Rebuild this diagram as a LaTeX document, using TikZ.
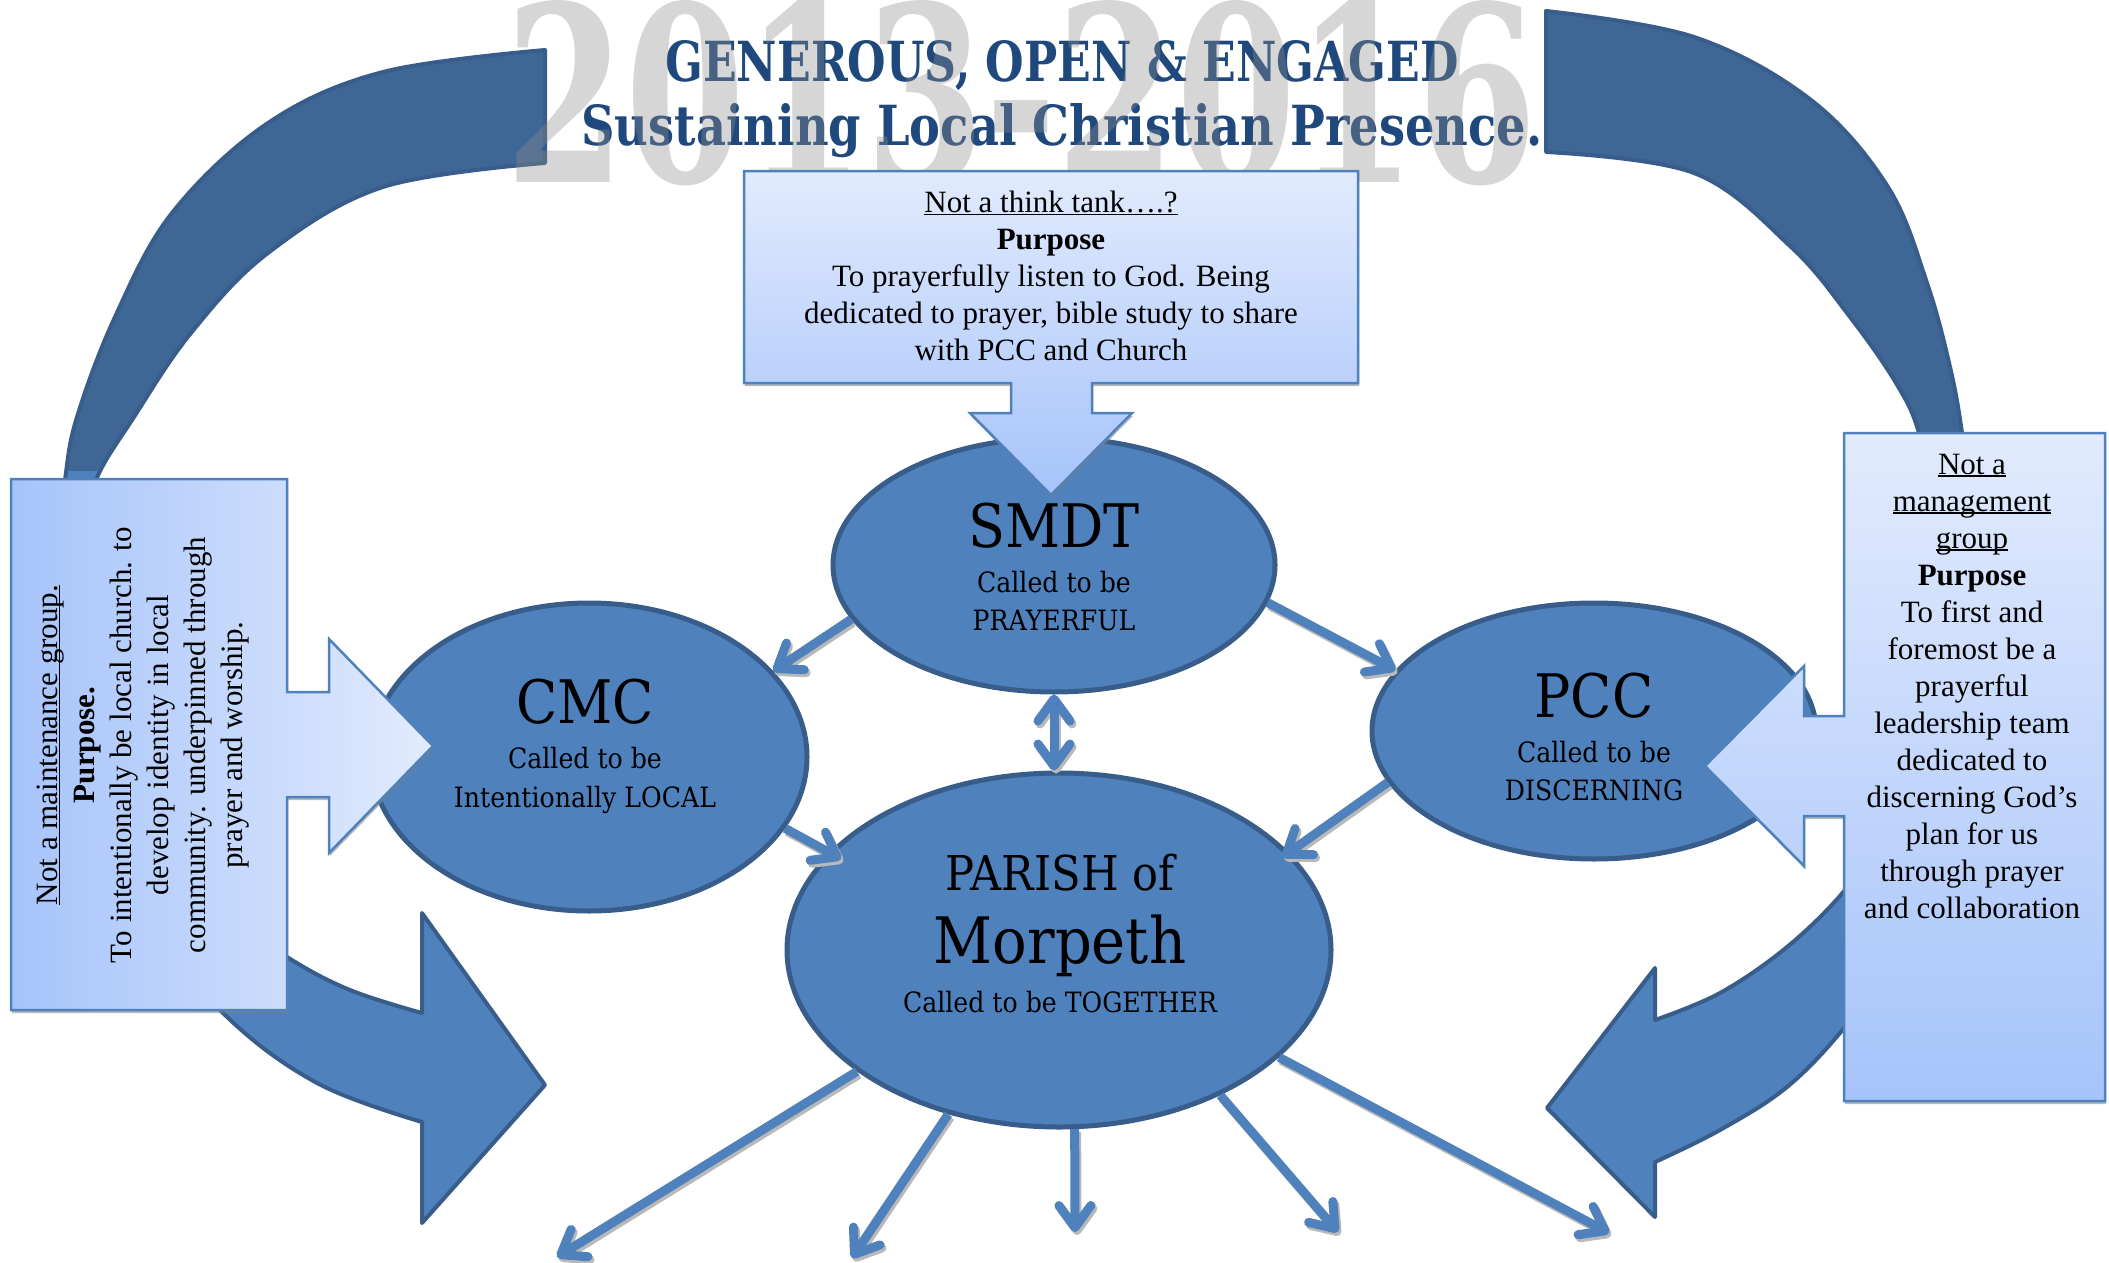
\documentclass[tikz,border=0pt]{standalone}
\usepackage{fontspec}
\setmainfont{Liberation Serif}
\newfontfamily\cambria{DejaVu Serif}[FakeStretch=0.9]
\usetikzlibrary{arrows.meta,shapes.geometric,shadows}
\definecolor{ellfill}{HTML}{4F81BD}
\definecolor{ellline}{HTML}{385D8A}
\definecolor{arcdark}{HTML}{3F6796}
\definecolor{boxline}{HTML}{4F81BD}
\definecolor{boxlight}{HTML}{E1EBFD}
\definecolor{boxdark}{HTML}{A6C3FA}
\definecolor{titleblue}{HTML}{1F497D}
\definecolor{wmgray}{HTML}{8C8C8C}
\newcommand\myul[1]{\setbox0=\hbox{#1}\rlap{\rule[-0.09em]{\wd0}{0.05em}}\box0}
\newcommand\myarrow[3][]{%
  \draw[arrshadow,#1] ([shift={(2,3)}]#2) -- ([shift={(2,3)}]#3);
  \draw[smallarr,#1] (#2) -- (#3);}
\begin{document}
\begin{tikzpicture}[x=1pt,y=-1pt,
  ellnode/.style={ellipse, draw=ellline, fill=ellfill, line width=5pt, inner sep=0pt},
  biglbl/.style={font=\cambria\fontsize{60}{60}\selectfont, inner sep=0pt, anchor=base},
  smalllbl/.style={font=\cambria\fontsize{28}{28}\selectfont, inner sep=0pt, anchor=base},
  boxtext/.style={align=center, font=\fontsize{31}{37}\selectfont, inner sep=0pt},
  calloutbox/.style={draw=boxline, line width=2.5pt, line join=miter,
     drop shadow={shadow xshift=1pt, shadow yshift=-3pt, opacity=0.55, fill=gray}},
  smallarr/.style={draw=ellfill, line width=9pt, -{Straight Barb[length=22pt,width=32pt,round]}},
  arrshadow/.style={draw=gray!55, line width=9pt, -{Straight Barb[length=22pt,width=32pt,round]}},
  arcline/.style={draw=ellline, line width=4pt, line join=round}
]
\useasboundingbox (0,0) rectangle (2109,1263);

% ---------- big curved arrows ----------
\path[save path=\larc] (545,50) -- plot[smooth,tension=0.6] coordinates {(545,50) (383,72) (268,123) (172,213) (115,317) (77,417) (65,480) (57,560) (58,660) (78,770) (130,900) (223,1013) (317,1083) (422,1122)}
  -- (422,1223) -- (545,1085) -- (422,913) -- (422,1013)
  -- plot[smooth,tension=0.6] coordinates {(422,1013) (350,990) (287,957) (205,900) (140,820) (98,720) (84,620) (84,540) (96,480) (134,417) (191,333) (268,253) (383,187) (545,163)} -- cycle;
\path[save path=\rarc] (1546,11) -- plot[smooth,tension=0.6] coordinates {(1546,11) (1694,37) (1811,100) (1888,187) (1927,283) (1950,367) (1962,433) (1972,520) (1975,620) (1958,780) (1910,940) (1845,1027) (1787,1087) (1720,1130) (1655,1162)}
  -- (1655,1217) -- (1547,1108) -- (1655,968) -- (1655,1020)
  -- plot[smooth,tension=0.6] coordinates {(1655,1020) (1720,993) (1787,947) (1845,890) (1885,830) (1922,750) (1940,640) (1937,520) (1919,433) (1896,383) (1850,317) (1791,247) (1694,173) (1546,152)} -- cycle;
\path[fill=ellfill, use path=\larc];
\path[fill=ellfill, use path=\rarc];
\begin{scope}
  \clip (0,0) rectangle (2109,470);
  \path[fill=arcdark, use path=\larc];
  \path[fill=arcdark, use path=\rarc];
\end{scope}
\path[arcline, use path=\larc];
\path[arcline, use path=\rarc];

% ---------- title ----------
\node[anchor=base, inner sep=0pt, text=titleblue, font=\cambria\bfseries] (title1) at (1062,82)
  {\resizebox{793pt}{41pt}{GENEROUS, OPEN \& ENGAGED}};
\node[anchor=base, inner sep=0pt, text=titleblue, font=\cambria\bfseries] (title2) at (1062,145)
  {\resizebox{961pt}{42pt}{Sustaining Local Christian Presence.}};
\node[anchor=north west, inner sep=0pt, text=wmgray, opacity=0.36, font=\cambria\bfseries] (wm) at (505,0)
  {\resizebox{1030pt}{182pt}{2013-2016}};

% ---------- ellipses ----------
\node[ellnode, minimum width=442pt, minimum height=254pt] (smdt) at (1054,565) {};
\node[ellnode, minimum width=436pt, minimum height=308pt] (cmc) at (589,757) {};
\node[ellnode, minimum width=444pt, minimum height=256pt] (pcc) at (1594,731) {};
\node[ellnode, minimum width=544pt, minimum height=354pt] (parish) at (1059,950) {};

% ---------- connectors ----------
\myarrow{smdt.-165}{cmc.25}
\myarrow{smdt.-10}{pcc.163}
\myarrow[shorten >=-14pt]{cmc.-20}{parish.157}
\myarrow[shorten >=-8pt]{pcc.-166}{parish.23}
\draw[arrshadow, {Straight Barb[length=22pt,width=32pt,round]}-{Straight Barb[length=22pt,width=32pt,round]}]
  ([shift={(2,3)}]smdt.south) -- ([shift={(2,3)}]smdt.south |- parish.north);
\draw[smallarr, {Straight Barb[length=22pt,width=32pt,round]}-{Straight Barb[length=22pt,width=32pt,round]}]
  (smdt.south) -- (smdt.south |- parish.north);
\coordinate (e1) at (557,1257);
\coordinate (e2) at (852,1258);
\coordinate (e3) at (1075,1232);
\coordinate (e4) at (1338,1232);
\coordinate (e5) at (1609,1233);
\myarrow{parish.-149}{e1}
\myarrow{parish.-124}{e2}
\myarrow{parish.-85}{e3}
\myarrow{parish.-42}{e4}
\myarrow{parish.-26}{e5}

% ---------- ellipse labels ----------
\node[biglbl] (smdtA) at (1054,547) {SMDT};
\node[smalllbl] (smdtB) at (1054,592) {Called to be};
\node[smalllbl] (smdtC) at (1054,630) {PRAYERFUL};
\node[biglbl] (cmcA) at (585,723) {CMC};
\node[smalllbl] (cmcB) at (585,768) {Called to be};
\node[smalllbl] (cmcC) at (585,807) {Intentionally LOCAL};
\node[biglbl] (pccA) at (1594,717) {PCC};
\node[smalllbl] (pccB) at (1594,762) {Called to be};
\node[smalllbl] (pccC) at (1594,800) {DISCERNING};
\node[biglbl, font=\cambria\fontsize{48}{48}\selectfont] (parA) at (1060,890) {PARISH of};
\node[biglbl, font=\cambria\fontsize{64}{64}\selectfont] (parB) at (1060,963) {Morpeth};
\node[smalllbl] (parC) at (1060,1012) {Called to be TOGETHER};

% ---------- callout boxes ----------
\path[calloutbox, top color=boxlight, bottom color=boxdark]
  (744,171) -- (1358,171) -- (1358,383) -- (1092,383) -- (1092,413) -- (1132,413) -- (1051,495)
  -- (970,413) -- (1011,413) -- (1011,383) -- (744,383) -- cycle;
\path[calloutbox, left color=boxdark, right color=boxlight]
  (11,479) -- (287,479) -- (287,692) -- (329,692) -- (329,639) -- (433,746) -- (329,853)
  -- (329,797) -- (287,797) -- (287,1010) -- (11,1010) -- cycle;
\path[calloutbox, top color=boxlight, bottom color=boxdark]
  (1844,433) -- (2105,433) -- (2105,1101) -- (1844,1101) -- (1844,816) -- (1804,816) -- (1804,866)
  -- (1705,766) -- (1804,666) -- (1804,716) -- (1844,716) -- cycle;

\node[boxtext] (toptext) at (1051,276)
  {\myul{Not a think tank….?}\\\textbf{Purpose}\\To prayerfully listen to God. Being\\dedicated to prayer, bible study to share\\with PCC and Church};
\node[boxtext, rotate=90] (lefttext) at (143,745)
  {\myul{Not a maintenance group.}\\\textbf{Purpose.}\\To intentionally be local church. to\\develop identity in local\\community. underpinned through\\prayer and worship.};
\node[boxtext] (righttext) at (1972,686)
  {\myul{Not a}\\\myul{management}\\\myul{group}\\\textbf{Purpose}\\To first and\\foremost be a\\prayerful\\leadership team\\dedicated to\\discerning God’s\\plan for us\\through prayer\\and collaboration};
\end{tikzpicture}
\end{document}
